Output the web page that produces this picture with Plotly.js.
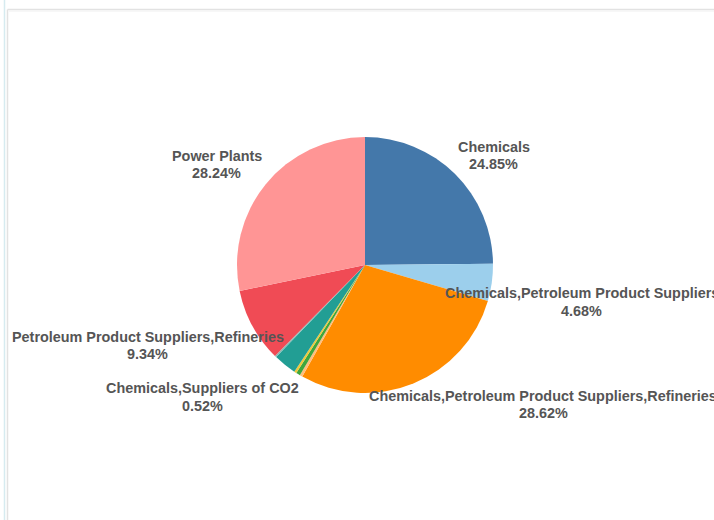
<!DOCTYPE html>
<html>
<head>
<meta charset="utf-8">
<script src="https://cdn.plot.ly/plotly-3.0.1.min.js"></script>
<style>
  html, body { margin: 0; padding: 0; background: #ffffff; }
  #chart { width: 714px; height: 520px; }
</style>
</head>
<body>
<div id="chart"></div>
<script>
// Share of facilities by industry category (percent)
const categories = [
  "Chemicals",
  "Chemicals,Petroleum Product Suppliers",
  "Chemicals,Petroleum Product Suppliers,Refineries",
  "Chemicals,Refineries",
  "Chemicals,Suppliers of CO2",
  "Other",
  "Petroleum Product Suppliers",
  "Petroleum Product Suppliers,Chemicals",
  "Petroleum Product Suppliers,Refineries",
  "Power Plants"
];
const shares = [24.85, 4.68, 28.62, 0.35, 0.52, 0.30, 2.90, 0.20, 9.34, 28.24];
const sliceColors = [
  "#4478aa", "#9ccfec", "#ff8c00", "#ffbe7d", "#3fa63c",
  "#f0c93a", "#229e94", "#86bcb6", "#f04b55", "#ff9595"
];
// Categories that carry a text label
const labelledCategories = [
  "Chemicals",
  "Chemicals,Petroleum Product Suppliers",
  "Chemicals,Petroleum Product Suppliers,Refineries",
  "Chemicals,Suppliers of CO2",
  "Petroleum Product Suppliers,Refineries",
  "Power Plants"
];

// Label placement in page pixels: centre x and cap top of the first line
const labelPlacement = {
  "Chemicals": [493.5, 141.7],
  "Chemicals,Petroleum Product Suppliers": [581.5, 288],
  "Chemicals,Petroleum Product Suppliers,Refineries": [543, 390.7],
  "Chemicals,Suppliers of CO2": [202, 383],
  "Petroleum Product Suppliers,Refineries": [147.5, 331.7],
  "Power Plants": [217, 151]
};

const W = 714, H = 520;
const px = x => x / W;
const py = y => 1 - y / H;

// Pie geometry in page pixels
const cx = 365, cy = 265, r = 128;

const labelFont = { family: "Liberation Sans, Arial, sans-serif", size: 14.4, color: "#555555", weight: "bold" };
const annotations = [];
labelledCategories.forEach(name => {
  const i = categories.indexOf(name);
  const [x, capTop] = labelPlacement[name];
  annotations.push({
    xref: "paper", yref: "paper", x: px(x), y: py(capTop + 5),
    xanchor: "center", yanchor: "middle", showarrow: false,
    text: name, font: labelFont
  });
  annotations.push({
    xref: "paper", yref: "paper", x: px(x), y: py(capTop + 22.5),
    xanchor: "center", yanchor: "middle", showarrow: false,
    text: shares[i].toFixed(2) + "%", font: labelFont
  });
});

const trace = {
  type: "pie",
  labels: categories,
  values: shares,
  sort: false,
  direction: "clockwise",
  rotation: 0,
  textinfo: "none",
  hoverinfo: "label+percent",
  marker: { colors: sliceColors, line: { width: 0 } },
  domain: { x: [px(cx - r), px(cx + r)], y: [py(cy + r), py(cy - r)] },
  showlegend: false
};

const layout = {
  width: W, height: H,
  margin: { l: 0, r: 0, t: 0, b: 0 },
  paper_bgcolor: "#ffffff",
  showlegend: false,
  annotations: annotations,
  shapes: [
    { type: "line", xref: "paper", yref: "paper", x0: px(4.5), x1: px(4.5), y0: 0, y1: 1,
      line: { color: "#d6ebf0", width: 1.5 } },
    { type: "line", xref: "paper", yref: "paper", x0: px(7.5), x1: px(7.5), y0: 0, y1: py(9.5),
      line: { color: "#e2e2e2", width: 1.5 } },
    { type: "line", xref: "paper", yref: "paper", x0: px(7.5), x1: 1, y0: py(9.5), y1: py(9.5),
      line: { color: "#e2e2e2", width: 1.5 } },
    { type: "line", xref: "paper", yref: "paper", x0: px(9), x1: 1, y0: py(11), y1: py(11),
      line: { color: "#f4f4f4", width: 1.5 } }
  ]
};

Plotly.newPlot("chart", [trace], layout, { displayModeBar: false, staticPlot: true });
</script>
</body>
</html>
